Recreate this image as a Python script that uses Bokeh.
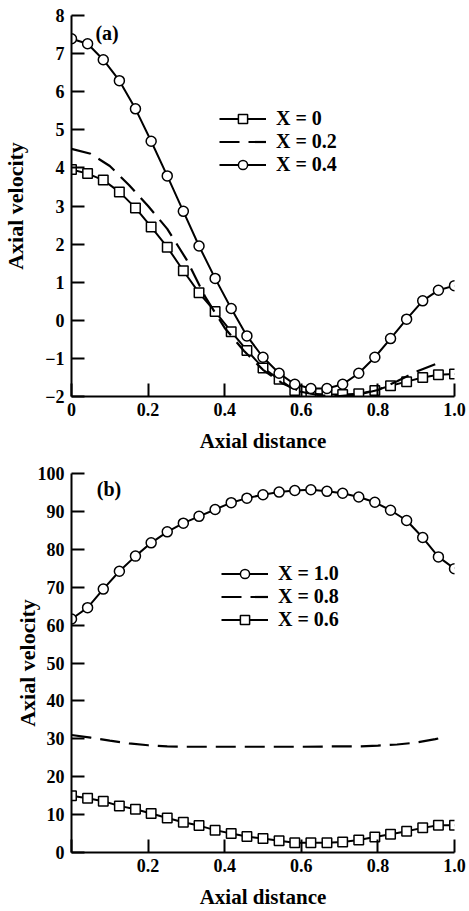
from bokeh.plotting import figure
from bokeh.models import Legend, LegendItem, Label, FixedTicker, Range1d
from bokeh.layouts import column
from bokeh.embed import file_html
from bokeh.resources import INLINE

FONT = "Liberation Serif"

# ---------- data: panel (a) ----------
grid_x = [0, 0.042, 0.083, 0.125, 0.167, 0.208, 0.25, 0.292, 0.333, 0.375,
          0.417, 0.458, 0.5, 0.542, 0.583, 0.625, 0.667, 0.708, 0.75, 0.792,
          0.833, 0.875, 0.917, 0.958, 1.0]
a_x0_y = [3.96, 3.85, 3.68, 3.37, 2.95, 2.45, 1.92, 1.3, 0.72, 0.23, -0.3, -0.79,
          -1.25, -1.55, -1.84, -1.93, -1.95, -1.95, -1.93, -1.84, -1.72, -1.61,
          -1.5, -1.43, -1.41]
a_x04_y = [7.39, 7.26, 6.84, 6.29, 5.55, 4.7, 3.79, 2.86, 1.95, 1.1, 0.31, -0.41,
           -0.97, -1.39, -1.68, -1.79, -1.79, -1.68, -1.39, -0.97, -0.48, 0.03,
           0.51, 0.79, 0.91]
a_x02_x = [0, 0.05, 0.1, 0.15, 0.2, 0.25, 0.3, 0.35, 0.4, 0.45, 0.5, 0.55, 0.6,
           0.65, 0.7, 0.75, 0.8, 0.85, 0.9, 0.95, 0.97]
a_x02_y = [4.5, 4.37, 4.05, 3.55, 3.0, 2.4, 1.6, 0.6, -0.2, -0.8, -1.3, -1.65,
           -1.88, -1.97, -1.99, -1.95, -1.83, -1.6, -1.35, -1.15, -1.05]

# ---------- data: panel (b) ----------
b_x10_y = [61.6, 64.6, 69.5, 74.2, 78.2, 81.7, 84.6, 86.9, 88.7, 90.5, 92.3, 93.5,
           94.4, 95.1, 95.5, 95.7, 95.3, 94.8, 93.8, 92.4, 90.3, 87.6, 83.1, 78.0,
           74.9]
b_x06_y = [15.0, 14.3, 13.5, 12.3, 11.4, 10.3, 9.1, 8.0, 7.1, 5.9, 5.0, 4.2, 3.7,
           3.1, 2.6, 2.6, 2.6, 2.8, 3.3, 4.1, 4.8, 5.6, 6.5, 7.2, 7.2]
b_x08_x = [0, 0.05, 0.1, 0.15, 0.2, 0.25, 0.3, 0.4, 0.5, 0.6, 0.7, 0.75, 0.8,
           0.85, 0.9, 0.95, 0.98]
b_x08_y = [31.0, 30.3, 29.5, 28.8, 28.3, 28.0, 27.9, 27.9, 27.9, 27.9, 28.0,
           28.0, 28.2, 28.5, 29.0, 29.9, 30.6]

x_ticks = [0, 0.2, 0.4, 0.6, 0.8, 1.0]
x_tick_labels = ["0", "0.2", "0.4", "0.6", "0.8", "1.0"]
a_y_ticks = [-2, -1, 0, 1, 2, 3, 4, 5, 6, 7, 8]
b_y_ticks = [0, 10, 20, 30, 40, 50, 60, 70, 80, 90, 100]


def make_fig(height, yr, yticks, border_top, border_left, border_right,
             ylab_standoff, xlab_overrides):
    p = figure(width=469, height=height, output_backend="svg",
               toolbar_location=None, x_range=Range1d(0, 1.0),
               y_range=Range1d(*yr), min_border_top=border_top,
               min_border_left=border_left, min_border_right=border_right,
               min_border_bottom=10)
    p.outline_line_color = None
    p.xgrid.grid_line_color = None
    p.ygrid.grid_line_color = None
    for ax in (p.xaxis[0], p.yaxis[0]):
        ax.axis_line_width = 2
        ax.axis_line_color = "black"
        ax.major_tick_in = 13
        ax.major_tick_out = 0
        ax.major_tick_line_width = 2
        ax.major_tick_line_color = "black"
        ax.minor_tick_line_color = None
        ax.major_label_text_font = FONT
        ax.major_label_text_font_style = "bold"
        ax.major_label_text_font_size = "18px"
        ax.major_label_text_color = "black"
        ax.axis_label_text_font = FONT
        ax.axis_label_text_font_style = "bold"
        ax.axis_label_text_color = "black"
    p.xaxis.ticker = FixedTicker(ticks=x_ticks)
    p.xaxis.major_label_overrides = xlab_overrides
    p.yaxis.ticker = FixedTicker(ticks=yticks)
    p.xaxis.major_label_standoff = 6
    p.yaxis.major_label_standoff = 7
    p.xaxis.axis_label = "Axial distance"
    p.yaxis.axis_label = "Axial velocity"
    p.xaxis.axis_label_text_font_size = "21px"
    p.yaxis.axis_label_text_font_size = "22px"
    p.xaxis.axis_label_standoff = 10
    p.yaxis.axis_label_standoff = ylab_standoff
    return p


def add_series(p, xs, ys, marker=None, dash=None):
    rs = []
    if dash:
        rs.append(p.line(xs, ys, line_color="black", line_width=2.2, line_dash=dash))
    else:
        rs.append(p.line(xs, ys, line_color="black", line_width=2))
    if marker:
        rs.append(p.scatter(xs, ys, marker=marker, size=10 if marker == "circle" else 9.5,
                            fill_color="white", line_color="black", line_width=1.5))
    return rs


def make_legend(p, items, loc):
    lg = Legend(items=[LegendItem(label=l, renderers=r) for l, r in items],
                location=loc, padding=0, margin=0, spacing=0,
                glyph_width=47, glyph_height=23, label_height=23,
                label_standoff=10, border_line_color=None,
                background_fill_alpha=0,
                label_text_font=FONT, label_text_font_style="bold",
                label_text_font_size="20px", label_text_color="black")
    p.add_layout(lg)


xl = {t: s for t, s in zip(x_ticks, x_tick_labels)}

# panel (a)
pa = make_fig(455, (-2.0, 8.0), a_y_ticks, 15, 70, 14, 14, xl)
r0 = add_series(pa, grid_x, a_x0_y, marker="square")
r2 = add_series(pa, a_x02_x, a_x02_y, dash="20 9")
r4 = add_series(pa, grid_x, a_x04_y, marker="circle")
make_legend(pa, [("X = 0", r0), ("X = 0.2", r2), ("X = 0.4", r4)], (148, 220))
pa.add_layout(Label(x=0.093, y=7.53, text="(a)", text_align="center",
                    text_baseline="middle", text_font=FONT, text_font_style="bold",
                    text_font_size="20px", text_color="black"))

# panel (b)
xl_b = dict(xl)
xl_b[0] = ""
pb = make_fig(456, (0, 100), b_y_ticks, 18, 68, 15, -5, xl_b)
q10 = add_series(pb, grid_x, b_x10_y, marker="circle")
q08 = add_series(pb, b_x08_x, b_x08_y, dash="20 9")
q06 = add_series(pb, grid_x, b_x06_y, marker="square")
make_legend(pb, [("X = 1.0", q10), ("X = 0.8", q08), ("X = 0.6", q06)], (150, 221))
pb.add_layout(Label(x=0.098, y=96.0, text="(b)", text_align="center",
                    text_baseline="middle", text_font=FONT, text_font_style="bold",
                    text_font_size="20px", text_color="black"))

layout = column(pa, pb, spacing=0)
open("out.html", "w").write(file_html(layout, INLINE))
